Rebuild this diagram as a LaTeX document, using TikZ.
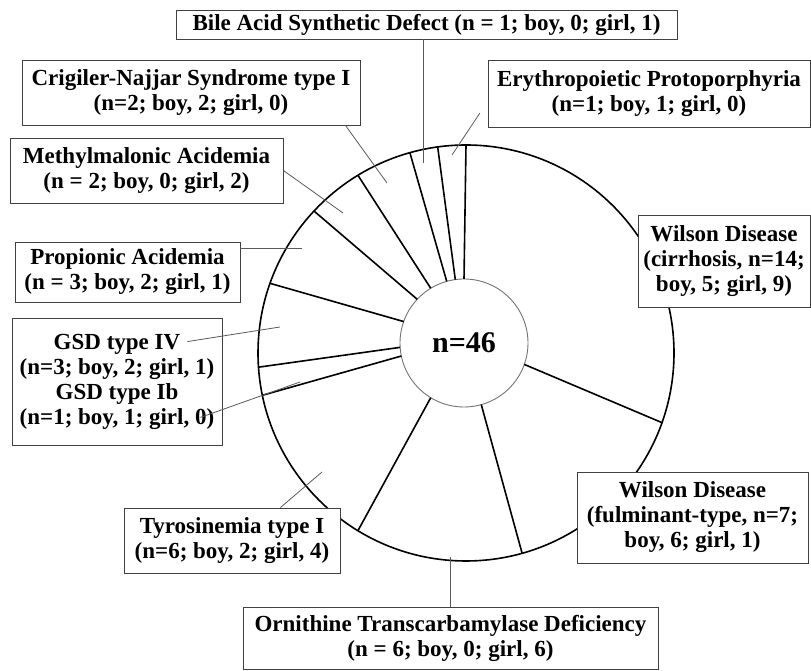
\documentclass[tikz,border=0pt]{standalone}
\usepackage{fontspec}
\setmainfont{Liberation Serif}
\usetikzlibrary{calc}

\begin{document}
\begin{tikzpicture}[x=1pt, y=1pt,
    box/.style={draw=black!75, line width=0.8pt, fill=white, align=center, inner sep=0pt,
        font=\bfseries\fontsize{23}{25}\selectfont},
    spoke/.style={line width=1.6pt},
    leader/.style={draw=black!65, line width=0.8pt}]
    \useasboundingbox (0,0) rectangle (811,671);

    % Ring of 46 patients (one patient = 360/46 degrees)
    \coordinate (cout) at (466,318);
    \coordinate (cin) at (464,328);
    \draw[spoke] (cout) circle[radius=208];
    \draw[black!55, line width=0.9pt] (cin) circle[radius=64];
    \foreach \k in {0,14,21,27,33,34,37,40,42,44,45} {
        \draw[spoke] ($(cin)+(90-\k*360/46:64)$) -- ($(cout)+(90-\k*360/46:208)$);
    }
    \node[font=\bfseries\fontsize{30}{30}\selectfont] (total) at (cin) {n=46};

    % Disease boxes
    \node[box, minimum width=501pt, minimum height=29pt] (bile) at (426.5,646.5) {Bile Acid Synthetic Defect (n = 1; boy, 0; girl, 1)};
    \node[box, minimum width=338pt, minimum height=65pt] (crig) at (191,578.5) {Crigiler-Najjar Syndrome type I\\(n=2; boy, 2; girl, 0)};
    \node[box, minimum width=322pt, minimum height=67pt] (ery) at (649,577.5) {Erythropoietic Protoporphyria\\(n=1; boy, 1; girl, 0)};
    \node[box, minimum width=273pt, minimum height=65pt] (meth) at (146.5,500.5) {Methylmalonic Acidemia\\(n = 2; boy, 0; girl, 2)};
    \node[box, minimum width=225pt, minimum height=60pt] (prop) at (127.5,399) {Propionic Acidemia\\(n = 3; boy, 2; girl, 1)};
    \node[box, minimum width=210pt, minimum height=127pt] (gsd) at (117,289.5) {GSD type IV\\(n=3; boy, 2; girl, 1)\\GSD type Ib\\(n=1; boy, 1; girl, 0)};
    \node[box, minimum width=172pt, minimum height=92pt] (wcir) at (724,410) {Wilson Disease\\(cirrhosis, n=14;\\boy, 5; girl, 9)};
    \node[box, minimum width=216pt, minimum height=65pt] (tyro) at (232,130.5) {Tyrosinemia type I\\(n=6; boy, 2; girl, 4)};
    \node[box, minimum width=231pt, minimum height=91pt] (wful) at (692.5,153.5) {Wilson Disease\\(fulminant-type, n=7;\\boy, 6; girl, 1)};
    \node[box, minimum width=415pt, minimum height=62pt] (otc) at (450.5,33) {Ornithine Transcarbamylase Deficiency\\(n = 6; boy, 0; girl, 6)};

    % Leaders into the slices
    \coordinate (tipBile) at (423,508);
    \coordinate (tipEry) at (452,516);
    \coordinate (tipCrig) at (387,488);
    \coordinate (tipMeth) at (343,458);
    \coordinate (tipProp) at (302,423);
    \coordinate (tipIV) at (280,344);
    \coordinate (tipIb) at (300,289);
    \coordinate (tipTyro) at (322,199);
    \coordinate (tipOtc) at (450.5,114);
    \draw[leader] (bile.south -| tipBile) -- (tipBile);
    \draw[leader, shorten <=14pt] ($(ery.south west)+(0,26)$) -- (tipEry);
    \draw[leader] ($(crig.south east)+(-15,0)$) -- (tipCrig);
    \draw[leader] (meth.east) -- (tipMeth);
    \draw[leader] (prop.east |- tipProp) -- (tipProp);
    \draw[leader] ($(gsd.north east)+(-35,-24)$) -- (tipIV);
    \draw[leader] ($(gsd.south east)+(-22,28)$) -- (tipIb);
    \draw[leader] ($(tyro.north east)+(-60,0)$) -- (tipTyro);
    \draw[leader] (otc.north) -- (tipOtc);
\end{tikzpicture}
\end{document}
